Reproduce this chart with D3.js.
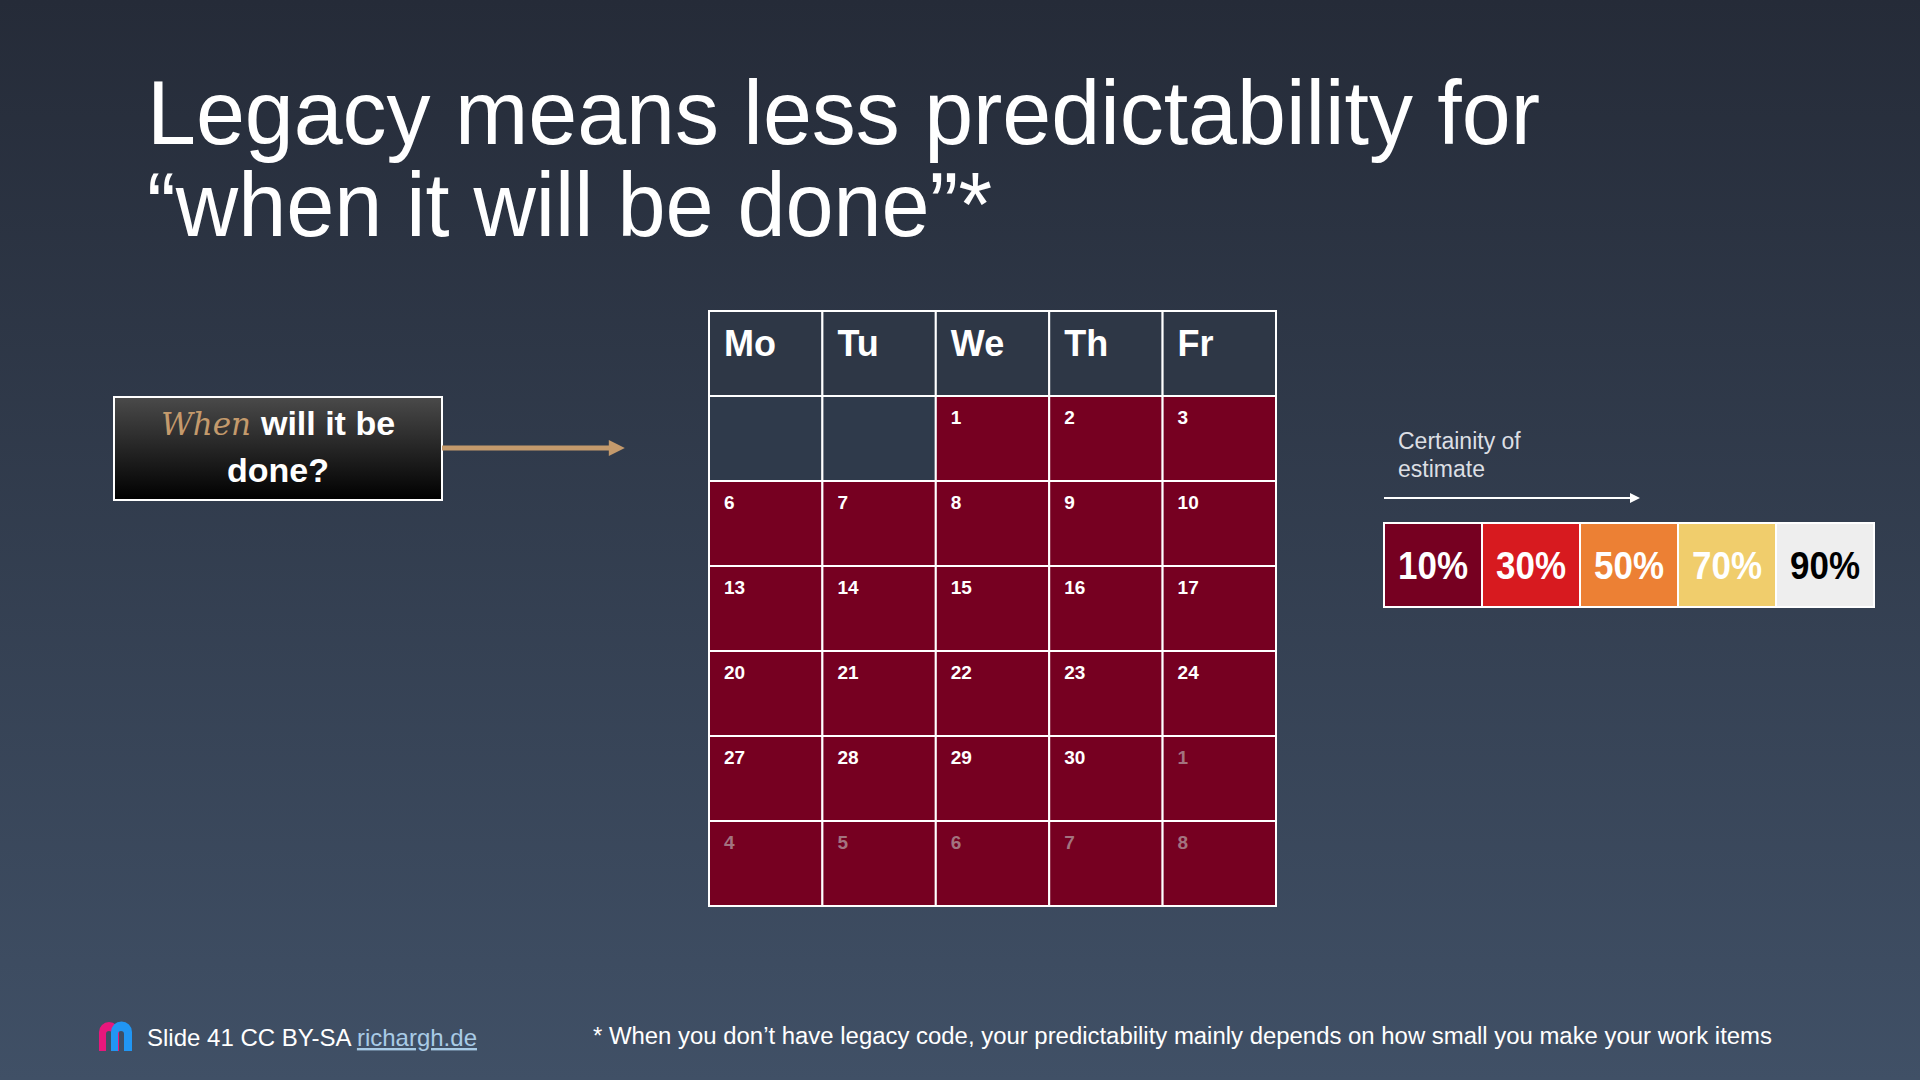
<!DOCTYPE html>
<meta charset="utf-8">
<style>
	html, body { margin: 0; padding: 0; background: #2b3442; }
	svg { display: block; }
</style>
<div id="slide"></div>
<script src="https://cdn.jsdelivr.net/npm/d3@7"></script>
<script>
	// calendar data
	const weekDays = ["Mo", "Tu", "We", "Th", "Fr"];
	const cellDays = [null, null, 1, 2, 3,
		6, 7, 8, 9, 10,
		13, 14, 15, 16, 17,
		20, 21, 22, 23, 24,
		27, 28, 29, 30, 1,
		4, 5, 6, 7, 8];
	// 0 = empty, 1 = this month, 2 = next month
	const cellMonth = [0, 0, 1, 1, 1,
		1, 1, 1, 1, 1,
		1, 1, 1, 1, 1,
		1, 1, 1, 1, 1,
		1, 1, 1, 1, 2,
		2, 2, 2, 2, 2];

	// legend data
	const certaintyLabels = ["10%", "30%", "50%", "70%", "90%"];
	const certaintyColors = ["#760021", "#d71a1f", "#ec8034", "#f0cd6c", "#eeeeee"];
	const certaintyText = ["#ffffff", "#ffffff", "#ffffff", "#ffffff", "#000000"];

	const titleLines = ["Legacy means less predictability for", "\u201Cwhen it will be done\u201D*"];
	const footnote = "* When you don\u2019t have legacy code, your predictability mainly depends on how small you make your work items";

	const width = 1920, height = 1080;
	const font = "'Liberation Sans', Arial, sans-serif";

	const svg = d3.select("#slide").append("svg")
		.attr("width", width)
		.attr("height", height);

	const defs = svg.append("defs");
	const bg = defs.append("linearGradient").attr("id", "bg")
		.attr("x1", 0).attr("y1", 0).attr("x2", 0).attr("y2", 1);
	bg.append("stop").attr("offset", 0).attr("stop-color", "#252b38");
	bg.append("stop").attr("offset", 1).attr("stop-color", "#405066");

	const boxGrad = defs.append("linearGradient").attr("id", "boxGrad")
		.attr("x1", 0).attr("y1", 0).attr("x2", 0).attr("y2", 1);
	boxGrad.append("stop").attr("offset", 0).attr("stop-color", "#4a4a4a");
	boxGrad.append("stop").attr("offset", 1).attr("stop-color", "#000000");

	defs.append("marker").attr("id", "tanHead")
		.attr("viewBox", "0 0 10 10").attr("refX", 2).attr("refY", 5)
		.attr("markerWidth", 3.6).attr("markerHeight", 3.2)
		.attr("markerUnits", "strokeWidth")
		.attr("orient", "auto")
		.append("path").attr("d", "M0,0L10,5L0,10z").attr("fill", "#c49a6c");

	defs.append("marker").attr("id", "whiteHead")
		.attr("viewBox", "0 0 10 10").attr("refX", 2).attr("refY", 5)
		.attr("markerWidth", 5).attr("markerHeight", 5)
		.attr("markerUnits", "strokeWidth")
		.attr("orient", "auto")
		.append("path").attr("d", "M0,0L10,5L0,10z").attr("fill", "#ffffff");

	svg.append("rect").attr("width", width).attr("height", height).attr("fill", "url(#bg)");

	// title
	svg.selectAll("text.title").data(titleLines).enter()
		.append("text")
		.attr("class", "title")
		.attr("x", 147)
		.attr("y", (d, i) => 144 + i * 92)
		.attr("textLength", (d, i) => i == 0 ? 1393 : 845)
		.attr("lengthAdjust", "spacingAndGlyphs")
		.style("font-family", font)
		.style("font-size", "90px")
		.attr("fill", "#ffffff")
		.text(d => d);

	// question box
	svg.append("rect")
		.attr("x", 114).attr("y", 397).attr("width", 328).attr("height", 103)
		.attr("fill", "url(#boxGrad)")
		.attr("stroke", "#ffffff").attr("stroke-width", 2);

	const q1 = svg.append("text")
		.attr("x", 278).attr("y", 435)
		.attr("text-anchor", "middle")
		.style("font-family", font)
		.style("font-size", "34px")
		.style("font-weight", "bold");
	q1.append("tspan")
		.style("font-family", "'DejaVu Serif', serif")
		.style("font-style", "italic")
		.style("font-weight", "normal")
		.style("font-size", "31px")
		.attr("fill", "#c49a6c")
		.text("When ");
	q1.append("tspan").attr("fill", "#ffffff").text("will it be");

	svg.append("text")
		.attr("x", 278).attr("y", 482)
		.attr("text-anchor", "middle")
		.style("font-family", font)
		.style("font-size", "34px")
		.style("font-weight", "bold")
		.attr("fill", "#ffffff")
		.text("done?");

	svg.append("line")
		.attr("x1", 442).attr("y1", 448).attr("x2", 612).attr("y2", 448)
		.attr("stroke", "#c49a6c").attr("stroke-width", 5)
		.attr("marker-end", "url(#tanHead)");

	// calendar
	const x = d3.scaleBand().domain(weekDays).range([709, 1276]);
	const y = d3.scaleBand().domain(d3.range(7)).range([311, 906]);

	const cal = svg.append("g");

	cal.selectAll("rect.head").data(weekDays).enter()
		.append("rect")
		.attr("class", "head")
		.attr("x", d => x(d)).attr("y", y(0))
		.attr("width", x.bandwidth()).attr("height", y.bandwidth())
		.attr("fill", "#2e3746")
		.attr("stroke", "#ffffff").attr("stroke-width", 2);

	cal.selectAll("text.head").data(weekDays).enter()
		.append("text")
		.attr("class", "head")
		.attr("x", d => x(d) + 15).attr("y", y(0) + 45)
		.style("font-family", font)
		.style("font-size", "36px")
		.style("font-weight", "bold")
		.attr("fill", "#ffffff")
		.text(d => d);

	const cells = cal.selectAll("g.cell").data(cellDays).enter()
		.append("g")
		.attr("class", "cell")
		.attr("transform", (d, i) => "translate(" + x(weekDays[i % 5]) + "," + y(1 + Math.floor(i / 5)) + ")");

	cells.append("rect")
		.attr("width", x.bandwidth()).attr("height", y.bandwidth())
		.attr("fill", (d, i) => cellMonth[i] == 0 ? "#2f3a4b" : "#760021")
		.attr("stroke", "#ffffff").attr("stroke-width", 2);

	cells.append("text")
		.attr("x", 15).attr("y", 28)
		.style("font-family", font)
		.style("font-size", "19px")
		.style("font-weight", "bold")
		.attr("fill", (d, i) => cellMonth[i] == 2 ? "#a3737f" : "#ffffff")
		.text(d => d == null ? "" : d);

	// certainty legend
	svg.selectAll("text.cert").data(["Certainity of", "estimate"]).enter()
		.append("text")
		.attr("class", "cert")
		.attr("x", 1398)
		.attr("y", (d, i) => 449 + i * 28)
		.style("font-family", font)
		.style("font-size", "23px")
		.attr("fill", "#dcdfe4")
		.text(d => d);

	svg.append("line")
		.attr("x1", 1384).attr("y1", 498).attr("x2", 1632).attr("y2", 498)
		.attr("stroke", "#ffffff").attr("stroke-width", 2)
		.attr("marker-end", "url(#whiteHead)");

	const lx = d3.scaleBand().domain(certaintyLabels).range([1384, 1874]);

	const legend = svg.selectAll("g.legend").data(certaintyLabels).enter()
		.append("g")
		.attr("class", "legend")
		.attr("transform", d => "translate(" + lx(d) + ",523)");

	legend.append("rect")
		.attr("width", lx.bandwidth()).attr("height", 84)
		.attr("fill", (d, i) => certaintyColors[i])
		.attr("stroke", "#ffffff").attr("stroke-width", 2);

	legend.append("text")
		.attr("x", lx.bandwidth() / 2).attr("y", 56)
		.attr("text-anchor", "middle")
		.attr("textLength", 70)
		.attr("lengthAdjust", "spacingAndGlyphs")
		.style("font-family", font)
		.style("font-size", "38px")
		.style("font-weight", "bold")
		.attr("fill", (d, i) => certaintyText[i])
		.text(d => d);

	// footer
	const logo = svg.append("g").attr("transform", "translate(99,1022)");
	logo.append("path")
		.attr("d", "M0,29V10A10,10 0 0 1 20,10V29H13V12A3,3 0 0 0 7,12V29Z")
		.attr("fill", "#e8177c");
	logo.append("path")
		.attr("d", "M12,29V10A10,10 0 0 1 33,10V29H25V12A3,3 0 0 0 19,12V29Z")
		.attr("fill", "#2196f3");

	const credit = svg.append("text")
		.attr("x", 147).attr("y", 1046)
		.style("font-family", font)
		.style("font-size", "24px")
		.attr("fill", "#ffffff");
	credit.append("tspan").text("Slide 41 CC BY-SA ");
	credit.append("tspan")
		.attr("fill", "#a9cbe6")
		.style("text-decoration", "underline")
		.text("richargh.de");

	svg.append("text")
		.attr("x", 593).attr("y", 1044)
		.attr("textLength", 1179)
		.attr("lengthAdjust", "spacingAndGlyphs")
		.style("font-family", font)
		.style("font-size", "23px")
		.attr("fill", "#ffffff")
		.text(footnote);
</script>
